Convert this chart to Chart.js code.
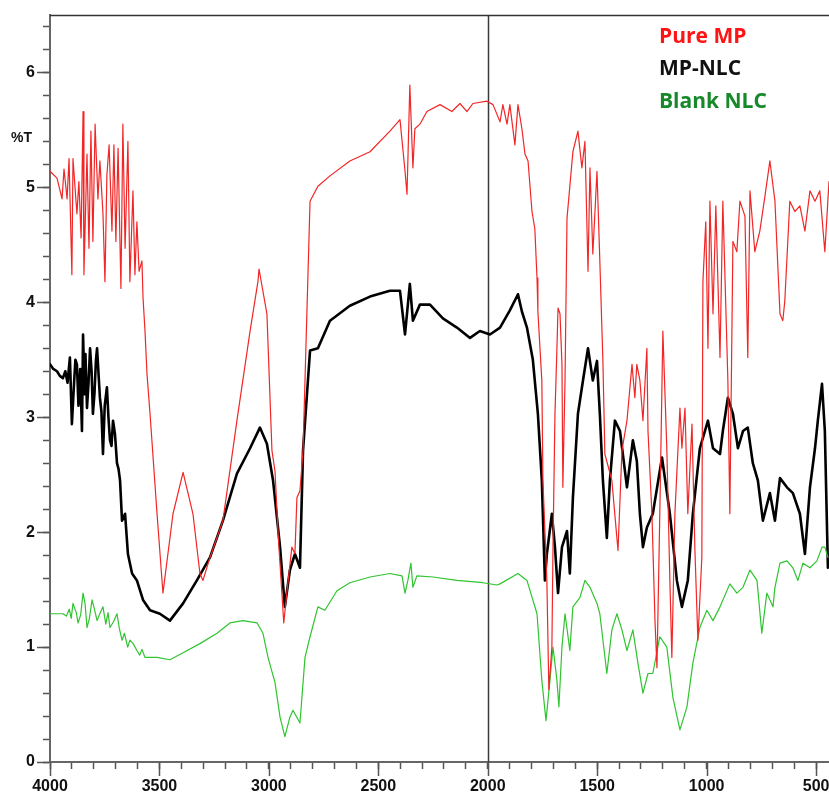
<!DOCTYPE html>
<html>
<head>
<meta charset="utf-8">
<title>FTIR spectra</title>
<script src="https://cdn.jsdelivr.net/npm/chart.js@4.4.1/dist/chart.umd.min.js"></script>
<style>
  html, body { margin: 0; padding: 0; background: #fff; }
  #wrap { position: relative; width: 829px; height: 794px; overflow: hidden; }
  .lbl { position: absolute; font-family: "Open Sans", sans-serif; font-weight: 700; white-space: nowrap; line-height: 1; }
</style>
</head>
<body>
<div id="wrap">
  <canvas id="ftir" width="829" height="794"></canvas>
  <div class="lbl" style="left:11px; top:130px; font-family:'Liberation Sans', Arial, sans-serif; font-size:14px; color:#111;">%T</div>
  <div class="lbl" style="left:659px; top:25px; font-size:21px; color:#ff1414;">Pure MP</div>
  <div class="lbl" style="left:659px; top:57px; font-size:21px; color:#111;">MP-NLC</div>
  <div class="lbl" style="left:659px; top:90px; font-size:21px; color:#17892b;">Blank NLC</div>
</div>
<script>
// ----------------- Axis settings -----------------
const X_MAX = 4000;
const X_MIN = 441;
const Y_MIN = 0;
const Y_MAX = 6.5;
const xLabelTicks = [4000, 3500, 3000, 2500, 2000, 1500, 1000, 500];
const yLabelTicks = [0, 1, 2, 3, 4, 5, 6];
const dividerAt = 2000;

// ----------------- Pure MP (red) -----------------
const redWn = [4000, 3968, 3945, 3936, 3922, 3913, 3900, 3895, 3877, 3868, 3858, 3849, 3845, 3831, 3822, 3813,
  3804, 3794, 3781, 3772, 3758, 3749, 3740, 3730, 3717, 3708, 3699, 3689, 3676, 3667, 3657, 3644, 3635, 3621,
  3612, 3603, 3593, 3580, 3575, 3566, 3557, 3543, 3511, 3484, 3438, 3392, 3347, 3315, 3301, 3269, 3210, 3146,
  3086, 3050, 3045, 3009, 2986, 2972, 2958, 2932, 2917, 2895, 2881, 2872, 2858, 2844, 2812, 2776, 2721, 2630,
  2538, 2447, 2401, 2378, 2369, 2356, 2342, 2333, 2310, 2278, 2218, 2164, 2127, 2095, 2068, 2004, 1976, 1944,
  1931, 1912, 1899, 1876, 1862, 1844, 1830, 1816, 1798, 1785, 1775, 1771, 1753, 1748, 1730, 1721, 1707, 1702,
  1693, 1684, 1679, 1670, 1661, 1657, 1647, 1638, 1611, 1588, 1570, 1556, 1542, 1533, 1520, 1501, 1488, 1474,
  1465, 1433, 1405, 1387, 1364, 1341, 1328, 1319, 1305, 1291, 1273, 1268, 1250, 1236, 1227, 1214, 1200, 1182,
  1168, 1159, 1145, 1122, 1113, 1099, 1086, 1067, 1054, 1040, 1022, 1017, 1004, 994, 985, 971, 958, 939, 926,
  903, 894, 880, 862, 848, 825, 812, 802, 780, 757, 734, 711, 688, 665, 652, 643, 620, 597, 574, 551, 528, 505,
  483, 460, 441];
const redT = [5.14, 5.08, 4.90, 5.16, 4.90, 5.25, 4.24, 5.25, 4.77, 5.05, 4.56, 5.66, 4.24, 5.29, 4.47, 5.49,
  4.53, 5.55, 4.90, 5.23, 4.77, 4.18, 5.11, 5.37, 4.62, 5.37, 4.53, 5.34, 4.12, 5.55, 4.47, 5.40, 4.18, 4.97,
  4.24, 4.70, 4.27, 4.36, 4.04, 3.75, 3.38, 3.03, 2.16, 1.47, 2.16, 2.52, 2.16, 1.64, 1.58, 1.78, 2.10, 2.97,
  3.75, 4.18, 4.29, 3.90, 2.71, 2.53, 1.99, 1.21, 1.49, 1.87, 1.81, 2.30, 2.36, 2.71, 4.88, 5.01, 5.10, 5.23,
  5.31, 5.49, 5.59, 5.14, 4.94, 5.89, 5.17, 5.51, 5.55, 5.66, 5.72, 5.66, 5.73, 5.66, 5.73, 5.75, 5.72, 5.57,
  5.72, 5.55, 5.72, 5.37, 5.72, 5.51, 5.29, 5.23, 4.79, 4.64, 4.21, 3.92, 3.32, 2.45, 1.58, 0.63, 1.00, 1.87,
  3.03, 3.60, 3.95, 3.90, 3.46, 2.39, 3.32, 4.73, 5.31, 5.49, 5.17, 5.40, 4.27, 5.17, 4.42, 5.14, 4.36, 3.49,
  2.68, 2.45, 1.84, 2.71, 2.97, 3.46, 3.17, 3.46, 3.32, 2.97, 3.60, 2.88, 2.16, 1.23, 0.82, 2.16, 3.75, 2.73,
  1.58, 0.91, 2.16, 3.08, 2.73, 3.08, 2.16, 2.94, 1.87, 1.06, 1.78, 4.18, 4.70, 3.60, 4.88, 3.90, 4.84, 3.52, 4.88,
  3.32, 2.16, 4.53, 4.44, 4.88, 4.75, 3.52, 4.97, 4.44, 4.62, 4.92, 5.23, 4.88, 3.90, 3.84, 4.01, 4.88, 4.79, 4.84,
  4.62, 4.97, 4.88, 4.97, 4.44, 5.05];

// ----------------- MP-NLC (black) -----------------
const blackWn = [4000, 3985, 3968, 3955, 3941, 3930, 3920, 3909, 3900, 3890, 3884, 3877, 3870, 3862, 3854, 3849,
  3842, 3838, 3831, 3824, 3817, 3810, 3804, 3797, 3790, 3785, 3772, 3765, 3758, 3750, 3740, 3733, 3726, 3719,
  3712, 3703, 3694, 3687, 3680, 3671, 3657, 3644, 3625, 3603, 3575, 3543, 3498, 3452, 3392, 3329, 3269, 3210,
  3146, 3086, 3041, 3009, 2981, 2949, 2927, 2904, 2881, 2858, 2844, 2812, 2776, 2721, 2630, 2538, 2447, 2401,
  2378, 2356, 2342, 2310, 2264, 2205, 2141, 2081, 2036, 1990, 1944, 1899, 1862, 1844, 1821, 1794, 1771, 1753,
  1739, 1730, 1707, 1693, 1679, 1661, 1638, 1625, 1611, 1588, 1565, 1542, 1520, 1501, 1488, 1474, 1456, 1442,
  1419, 1396, 1364, 1337, 1319, 1305, 1291, 1273, 1246, 1204, 1168, 1136, 1113, 1086, 1063, 1031, 994, 971, 939,
  926, 903, 880, 857, 834, 812, 789, 766, 743, 711, 688, 665, 633, 606, 574, 551, 528, 505, 492, 473, 460, 446];
const blackT = [3.46, 3.42, 3.40, 3.36, 3.34, 3.40, 3.30, 3.52, 2.94, 3.30, 3.50, 3.46, 3.10, 3.42, 2.88, 3.72,
  3.20, 3.55, 3.08, 3.30, 3.60, 3.40, 3.03, 3.20, 3.50, 3.60, 3.17, 3.05, 2.68, 3.10, 3.26, 3.00, 2.80, 2.75,
  2.97, 2.85, 2.60, 2.55, 2.45, 2.10, 2.16, 1.81, 1.64, 1.58, 1.41, 1.32, 1.29, 1.23, 1.38, 1.58, 1.78, 2.10,
  2.51, 2.73, 2.91, 2.77, 2.45, 1.87, 1.35, 1.67, 1.81, 1.69, 2.71, 3.58, 3.60, 3.84, 3.97, 4.05, 4.10, 4.10,
  3.72, 4.16, 3.84, 3.98, 3.98, 3.86, 3.78, 3.69, 3.75, 3.72, 3.78, 3.93, 4.07, 3.92, 3.78, 3.50, 3.03, 2.45,
  1.58, 1.81, 2.16, 1.87, 1.47, 1.87, 2.01, 1.64, 2.30, 3.03, 3.32, 3.60, 3.32, 3.49, 3.03, 2.45, 1.95, 2.45,
  2.97, 2.88, 2.39, 2.80, 2.62, 2.16, 1.87, 2.04, 2.16, 2.65, 2.16, 1.58, 1.35, 1.58, 2.16, 2.73, 2.97, 2.73, 2.68,
  2.88, 3.17, 3.03, 2.73, 2.88, 2.91, 2.60, 2.45, 2.10, 2.34, 2.10, 2.47, 2.39, 2.34, 2.16, 1.81, 2.39, 2.73, 2.97,
  3.29, 2.88, 1.69];

// ----------------- Blank NLC (green) -----------------
const greenWn = [4000, 3941, 3925, 3912, 3903, 3895, 3880, 3872, 3860, 3849, 3840, 3831, 3820, 3808, 3797, 3785,
  3770, 3758, 3745, 3735, 3726, 3710, 3694, 3683, 3671, 3660, 3645, 3635, 3620, 3603, 3590, 3580, 3566, 3511,
  3452, 3392, 3315, 3237, 3178, 3118, 3054, 3027, 3004, 2972, 2949, 2927, 2904, 2890, 2858, 2835, 2812, 2776,
  2744, 2689, 2630, 2538, 2447, 2392, 2378, 2365, 2351, 2342, 2324, 2250, 2141, 2022, 1958, 1944, 1862, 1821,
  1775, 1753, 1734, 1716, 1702, 1684, 1675, 1661, 1647, 1625, 1611, 1579, 1556, 1533, 1501, 1488, 1456, 1433,
  1410, 1387, 1364, 1337, 1314, 1291, 1268, 1246, 1214, 1182, 1154, 1122, 1090, 1063, 1031, 999, 971, 939, 894,
  862, 834, 802, 770, 748, 725, 697, 688, 665, 633, 606, 583, 560, 528, 496, 473, 460, 446];
const greenT = [1.29, 1.29, 1.27, 1.33, 1.25, 1.38, 1.30, 1.21, 1.28, 1.47, 1.38, 1.17, 1.25, 1.41, 1.33, 1.23,
  1.30, 1.35, 1.20, 1.30, 1.17, 1.22, 1.29, 1.16, 1.06, 1.12, 1.00, 1.06, 1.03, 0.97, 0.93, 0.98, 0.91, 0.91,
  0.89, 0.95, 1.03, 1.12, 1.21, 1.23, 1.21, 1.12, 0.91, 0.69, 0.39, 0.22, 0.39, 0.45, 0.34, 0.91, 1.09, 1.35,
  1.32, 1.49, 1.56, 1.61, 1.64, 1.62, 1.47, 1.58, 1.73, 1.52, 1.62, 1.61, 1.58, 1.56, 1.54, 1.55, 1.64, 1.58,
  1.29, 0.71, 0.36, 0.71, 1.00, 0.71, 0.48, 1.00, 1.29, 0.97, 1.35, 1.43, 1.58, 1.52, 1.38, 1.29, 0.77, 1.15,
  1.29, 1.15, 0.97, 1.15, 0.86, 0.60, 0.77, 0.77, 1.09, 1.00, 0.56, 0.28, 0.48, 0.86, 1.17, 1.32, 1.23, 1.35, 1.55,
  1.47, 1.52, 1.67, 1.58, 1.12, 1.47, 1.35, 1.52, 1.73, 1.75, 1.69, 1.58, 1.73, 1.69, 1.75, 1.87, 1.87, 1.78];

// ----------------- Helpers -----------------
const toPoints = (xs, ys) => xs.map((x, i) => ({ x, y: ys[i] }));
const TICK_FONT = { family: "'Liberation Sans', Arial, sans-serif", size: 16, weight: 'bold' };

function minorTicks(from, to, step) {
  const out = [];
  const n = Math.round((to - from) / step);
  for (let i = 0; i <= n; i++) out.push({ value: Math.round((from + i * step) * 100) / 100 });
  return out;
}

// Frame extras: top border, 2000 divider, long major ticks
const frameLines = {
  id: 'frameLines',
  beforeDatasetsDraw(chart) {
    const { ctx, chartArea: a, scales: { x } } = chart;
    const px = Math.round(x.getPixelForValue(dividerAt)) + 0.5;
    ctx.save();
    ctx.strokeStyle = '#3a3a3a';
    ctx.lineWidth = 1.5;
    ctx.beginPath();
    ctx.moveTo(px, a.top);
    ctx.lineTo(px, a.bottom);
    ctx.stroke();
    ctx.restore();
  },
  afterDraw(chart) {
    const { ctx, chartArea: a, scales: { x, y } } = chart;
    ctx.save();
    ctx.strokeStyle = '#333';
    ctx.lineWidth = 1.5;
    ctx.beginPath();
    ctx.moveTo(a.left, a.top + 0.5);
    ctx.lineTo(a.right, a.top + 0.5);
    ctx.stroke();

    ctx.strokeStyle = '#555';
    ctx.lineWidth = 1.5;
    ctx.beginPath();
    yLabelTicks.forEach(v => {
      const py = Math.round(y.getPixelForValue(v)) + 0.5;
      ctx.moveTo(a.left - 13, py);
      ctx.lineTo(a.left, py);
    });
    xLabelTicks.forEach(v => {
      const px = Math.round(x.getPixelForValue(v)) + 0.5;
      ctx.moveTo(px, a.bottom);
      ctx.lineTo(px, a.bottom + 14);
    });
    ctx.stroke();
    ctx.restore();
  }
};

// ----------------- Chart -----------------
new Chart(document.getElementById('ftir'), {
  type: 'line',
  data: {
    datasets: [
      {
        label: 'Pure MP',
        data: toPoints(redWn, redT),
        borderColor: 'rgb(242, 38, 38)',
        borderWidth: 1.2,
        order: 1
      },
      {
        label: 'Blank NLC',
        data: toPoints(greenWn, greenT),
        borderColor: 'rgb(48, 196, 48)',
        borderWidth: 1.2,
        order: 2
      },
      {
        label: 'MP-NLC',
        data: toPoints(blackWn, blackT),
        borderColor: '#000',
        borderWidth: 2.6,
        order: 3
      }
    ]
  },
  options: {
    responsive: false,
    animation: false,
    devicePixelRatio: 1,
    layout: { padding: { top: 15, right: 0, bottom: 0, left: 0 } },
    elements: {
      point: { radius: 0 },
      line: { tension: 0, borderJoinStyle: 'round', borderCapStyle: 'round' }
    },
    plugins: {
      legend: { display: false },
      tooltip: { enabled: false }
    },
    scales: {
      x: {
        type: 'linear',
        reverse: true,
        min: X_MIN,
        max: X_MAX,
        afterBuildTicks: s => { s.ticks = minorTicks(500, 4000, 100); },
        afterFit: s => { s.height = 32; s.paddingLeft = 0; s.paddingRight = 0; },
        border: { display: true, color: '#666', width: 2 },
        grid: { display: true, drawOnChartArea: false, tickLength: 7, tickColor: '#555', tickWidth: 1.5 },
        ticks: {
          autoSkip: false,
          maxRotation: 0,
          padding: 8,
          color: '#111',
          font: TICK_FONT,
          callback: v => (xLabelTicks.includes(v) ? String(v) : '')
        }
      },
      y: {
        min: Y_MIN,
        max: Y_MAX,
        afterBuildTicks: s => { s.ticks = minorTicks(0, 6.4, 0.2); },
        afterFit: s => { s.width = 50; s.paddingTop = 0; s.paddingBottom = 0; },
        border: { display: true, color: '#666', width: 2 },
        grid: { display: true, drawOnChartArea: false, tickLength: 7, tickColor: '#555', tickWidth: 1.5 },
        ticks: {
          autoSkip: false,
          padding: 8,
          color: '#111',
          font: TICK_FONT,
          callback: v => (yLabelTicks.includes(v) ? String(v) : '')
        }
      }
    }
  },
  plugins: [frameLines]
});
</script>
</body>
</html>
